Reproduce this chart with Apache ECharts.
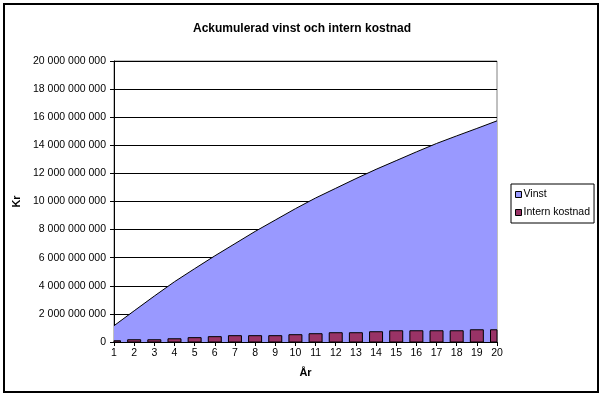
<!DOCTYPE html>
<html>
<head>
  <meta charset="utf-8">
  <script src="https://cdn.jsdelivr.net/npm/echarts@6/dist/echarts.min.js"></script>
  <style>
    html, body { margin: 0; padding: 0; background: #fff; }
    #chart { width: 604px; height: 397px; }
  </style>
</head>
<body>
  <div id="chart"></div>
  <script>
    // År
    var years = ['1', '2', '3', '4', '5', '6', '7', '8', '9', '10',
      '11', '12', '13', '14', '15', '16', '17', '18', '19', '20']
    // Ackumulerad vinst (kr)
    var vinst = [1160000000, 2220000000, 3270000000, 4290000000, 5220000000,
      6130000000, 7000000000, 7870000000, 8680000000, 9490000000,
      10250000000, 10940000000, 11630000000, 12290000000, 12910000000,
      13530000000, 14130000000, 14670000000, 15200000000, 15740000000]
    // Intern kostnad (kr)
    var internKostnad = [90000000, 160000000, 160000000, 230000000, 310000000,
      380000000, 450000000, 450000000, 450000000, 520000000,
      590000000, 660000000, 660000000, 730000000, 800000000,
      800000000, 800000000, 800000000, 870000000, 870000000]
    var yTicks = { min: 0, max: 20000000000, interval: 2000000000 }

    var font = 'Liberation Sans, Arial, sans-serif'
    var chart = echarts.init(document.getElementById('chart'))

    function spaced(v) {
      return String(v).replace(/\B(?=(\d{3})+(?!\d))/g, ' ')
    }

    // staplar centrerade på årsmarkeringen, klippta mot plotytan (som i Excel)
    function renderBar(params, api) {
      var top = api.coord([api.value(0), api.value(1)])
      var base = api.coord([api.value(0), 0])
      var w = 13
      var rect = echarts.graphic.clipRectByRect({
        x: top[0] - w / 2,
        y: top[1],
        width: w,
        height: base[1] - top[1]
      }, params.coordSys)
      if (!rect) return
      return {
        type: 'rect',
        shape: rect,
        style: { fill: '#993366', stroke: '#000', lineWidth: 1 }
      }
    }

    var options = {
      animation: false,
      backgroundColor: '#fff',
      textStyle: { fontFamily: font },
      title: {
        text: 'Ackumulerad vinst och intern kostnad',
        left: 'center',
        top: 18,
        textStyle: { fontFamily: font, fontSize: 12, fontWeight: 'bold', color: '#000' }
      },
      legend: {
        orient: 'vertical',
        left: 511,
        top: 184,
        padding: [5, 4, 5, 4],
        borderColor: '#000',
        borderWidth: 1,
        itemWidth: 6,
        itemHeight: 6,
        itemGap: 7,
        textStyle: { fontFamily: font, fontSize: 10.5, color: '#000', padding: [0, 0, 0, -3] },
        data: [
          { name: 'Vinst', icon: 'rect', itemStyle: { color: '#9999FF', borderColor: '#000', borderWidth: 1 } },
          { name: 'Intern kostnad', icon: 'rect', itemStyle: { color: '#993366', borderColor: '#000', borderWidth: 1 } }
        ]
      },
      grid: {
        left: 114,
        right: 107,
        top: 61,
        bottom: 55,
        show: true,
        borderColor: '#808080',
        borderWidth: 1
      },
      xAxis: {
        type: 'category',
        boundaryGap: false,
        data: years,
        name: 'År',
        nameLocation: 'middle',
        nameGap: 25,
        nameTextStyle: { fontFamily: font, fontSize: 11, fontWeight: 'bold', color: '#000' },
        axisLine: { lineStyle: { color: '#000', width: 1 } },
        axisTick: { show: true, length: 4, lineStyle: { color: '#000' } },
        axisLabel: { fontFamily: font, fontSize: 10.5, color: '#000', margin: 6, interval: 0 },
        splitLine: { show: false }
      },
      yAxis: {
        type: 'value',
        min: yTicks.min,
        max: yTicks.max,
        interval: yTicks.interval,
        name: 'Kr',
        nameLocation: 'middle',
        nameRotate: 90,
        nameGap: 80,
        nameTextStyle: { fontFamily: font, fontSize: 11, fontWeight: 'bold', color: '#000' },
        axisLine: { show: true, lineStyle: { color: '#000', width: 1 } },
        axisTick: { show: true, length: 4, lineStyle: { color: '#000' } },
        axisLabel: { fontFamily: font, fontSize: 10.5, color: '#000', margin: 8, formatter: spaced },
        splitLine: { show: true, lineStyle: { color: '#000', width: 1 } }
      },
      series: [
        {
          name: 'Vinst',
          type: 'line',
          data: vinst,
          symbol: 'none',
          smooth: false,
          z: 1,
          lineStyle: { color: '#000', width: 1 },
          itemStyle: { color: '#9999FF' },
          areaStyle: { color: '#9999FF', opacity: 1 }
        },
        {
          name: 'Intern kostnad',
          type: 'custom',
          renderItem: renderBar,
          data: internKostnad.map(function(v, i) { return [i, v] }),
          encode: { x: 0, y: 1 },
          z: 5,
          itemStyle: { color: '#993366' }
        }
      ],
      graphic: [
        {
          type: 'rect',
          shape: { x: 4, y: 4, width: 594, height: 388 },
          style: { fill: 'none', stroke: '#000', lineWidth: 2 },
          silent: true,
          z: 100
        }
      ]
    }

    chart.setOption(options)
  </script>
</body>
</html>
